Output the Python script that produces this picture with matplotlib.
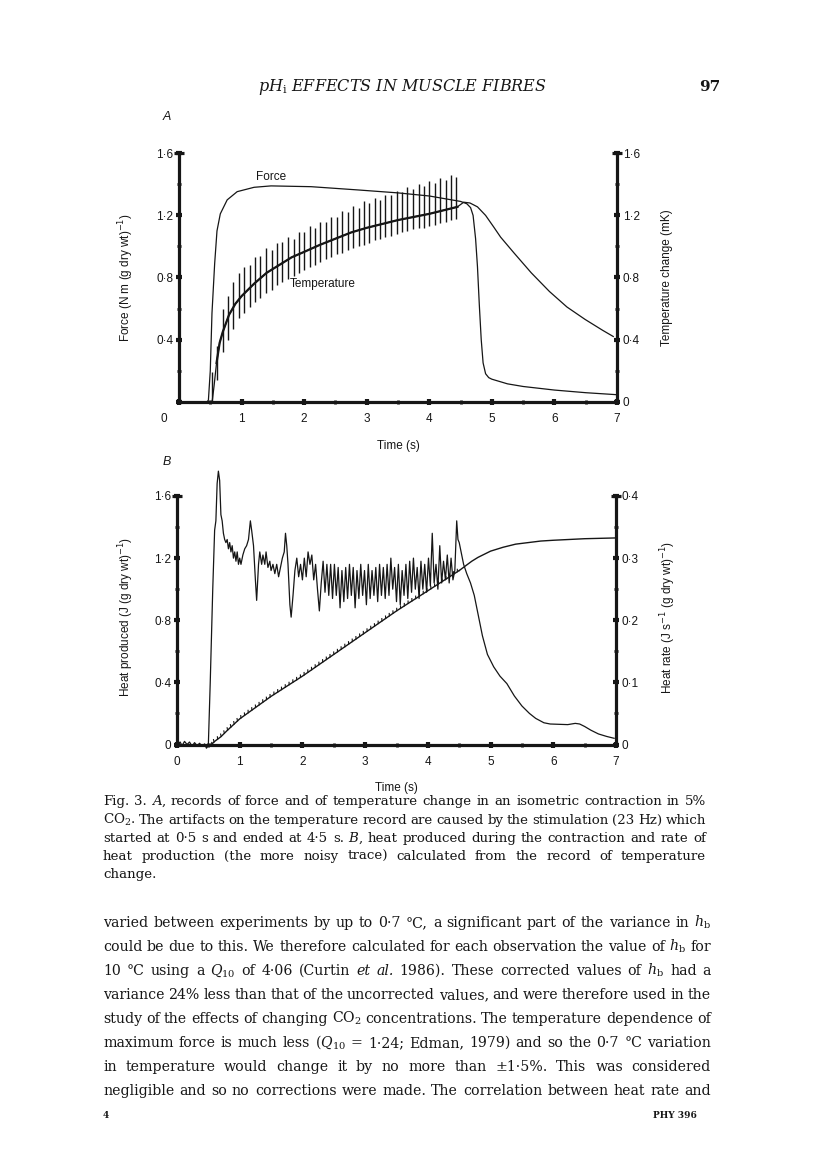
import matplotlib
matplotlib.use('Agg')
import matplotlib.pyplot as plt
import numpy as np
from matplotlib import patheffects
from matplotlib.ticker import MultipleLocator, FuncFormatter

W, H, DPI = 816, 1173, 100
INK = '#161616'
plt.rcParams['font.family'] = ['Liberation Sans', 'DejaVu Sans']

# ---------------- Panel A data ----------------
force_t = [0.00, 0.45, 0.47, 0.50, 0.527, 0.57, 0.607, 0.66, 0.77, 0.93, 1.20, 1.47,
           2.11, 2.86, 3.50, 4.00, 4.50, 4.60, 4.66, 4.70, 4.74, 4.77, 4.80, 4.83,
           4.86, 4.90, 4.95, 5.00, 5.25, 5.50, 6.00, 6.50, 7.00]
force_v = [0.00, 0.00, 0.01, 0.20, 0.57, 0.89, 1.10, 1.21, 1.30, 1.353, 1.381, 1.39,
           1.385, 1.364, 1.345, 1.325, 1.29, 1.275, 1.25, 1.20, 1.05, 0.87, 0.62, 0.40,
           0.25, 0.18, 0.155, 0.145, 0.115, 0.098, 0.075, 0.058, 0.045]

temp_t = [0.00, 0.50, 0.53, 0.56, 0.60, 0.65, 0.70, 0.80, 0.90, 1.00, 1.20, 1.40,
          1.60, 1.80, 2.00, 2.25, 2.50, 2.75, 3.00, 3.25, 3.50, 3.75, 4.00, 4.25,
          4.45, 4.55, 4.65, 4.77, 4.90, 5.03, 5.14, 5.35, 5.63, 5.92, 6.20, 6.49,
          6.77, 6.94]
temp_v = [0.00, 0.00, 0.00, 0.10, 0.25, 0.38, 0.45, 0.56, 0.63, 0.68, 0.76, 0.83,
          0.88, 0.93, 0.965, 1.01, 1.05, 1.09, 1.12, 1.145, 1.17, 1.19, 1.21, 1.235,
          1.255, 1.285, 1.28, 1.255, 1.20, 1.125, 1.06, 0.96, 0.83, 0.71, 0.61, 0.53,
          0.46, 0.42]

# stimulation artefacts on the temperature record (top / bottom of each spike, mK)
spike_t = [0.52, 0.61, 0.70, 0.78, 0.87, 0.96, 1.04, 1.13, 1.22, 1.30, 1.39, 1.48,
           1.56, 1.65, 1.74, 1.83, 1.91, 2.00, 2.09, 2.17, 2.26, 2.35, 2.43, 2.52,
           2.61, 2.70, 2.78, 2.87, 2.96, 3.04, 3.13, 3.22, 3.30, 3.39, 3.48, 3.57,
           3.65, 3.74, 3.83, 3.91, 4.00, 4.09, 4.17, 4.26, 4.35, 4.43]
spike_top = [0.19, 0.36, 0.60, 0.68, 0.77, 0.83, 0.87, 0.88, 0.93, 0.94, 0.99, 0.98,
             1.02, 1.03, 1.06, 1.05, 1.09, 1.09, 1.13, 1.12, 1.16, 1.16, 1.19, 1.19,
             1.23, 1.22, 1.26, 1.25, 1.29, 1.28, 1.31, 1.30, 1.33, 1.33, 1.36, 1.35,
             1.38, 1.37, 1.40, 1.39, 1.42, 1.41, 1.44, 1.43, 1.46, 1.45]
spike_bot = [0.00, 0.14, 0.32, 0.40, 0.47, 0.54, 0.57, 0.61, 0.64, 0.67, 0.70, 0.72,
             0.75, 0.77, 0.79, 0.81, 0.83, 0.85, 0.87, 0.88, 0.90, 0.92, 0.93, 0.95,
             0.96, 0.98, 0.99, 1.00, 1.01, 1.02, 1.04, 1.05, 1.06, 1.07, 1.08, 1.09,
             1.10, 1.11, 1.12, 1.12, 1.13, 1.14, 1.15, 1.16, 1.17, 1.18]

# ---------------- Panel B data ----------------
heat_t = [0.50, 0.55, 0.60, 0.70, 0.80, 1.00, 1.50, 2.00, 2.50, 3.00, 3.50, 4.00,
          4.50, 4.60, 4.70, 4.80, 4.90, 5.00, 5.20, 5.40, 5.60, 5.80, 6.00, 6.50, 7.00]
heat_v = [0.00, 0.00, 0.02, 0.05, 0.09, 0.165, 0.31, 0.44, 0.58, 0.72, 0.86, 0.99,
          1.12, 1.15, 1.18, 1.205, 1.225, 1.245, 1.27, 1.29, 1.30, 1.31, 1.315, 1.325, 1.33]

rate_t = [0.00, 0.05, 0.08, 0.12, 0.16, 0.20, 0.24, 0.28, 0.32, 0.36, 0.40, 0.44, 0.47, 0.50,
          0.53, 0.57, 0.60, 0.62, 0.64, 0.66, 0.68, 0.70, 0.72, 0.74, 0.76, 0.78, 0.80,
          0.82, 0.84, 0.86, 0.88, 0.90, 0.92, 0.94, 0.96, 0.98, 1.00, 1.02, 1.05, 1.08,
          1.11, 1.14, 1.17, 1.19, 1.22, 1.25, 1.27, 1.30, 1.32, 1.35, 1.37, 1.40, 1.42,
          1.45, 1.48, 1.50, 1.53, 1.56, 1.59, 1.62, 1.65, 1.68, 1.71, 1.73, 1.75, 1.77,
          1.80, 1.82, 1.85, 1.88, 1.91, 1.94, 1.97, 2.00, 2.03, 2.06, 2.09, 2.12, 2.15,
          2.18, 2.21, 2.24, 2.27, 2.30, 2.33, 2.36, 2.39, 2.42, 2.45, 2.48, 2.51, 2.54,
          2.57, 2.60, 2.63, 2.66, 2.69, 2.72, 2.75, 2.78, 2.81, 2.84, 2.87, 2.90, 2.93,
          2.96, 2.99, 3.02, 3.05, 3.08, 3.11, 3.14, 3.17, 3.20, 3.23, 3.26, 3.29, 3.32,
          3.35, 3.38, 3.41, 3.44, 3.47, 3.50, 3.53, 3.56, 3.59, 3.62, 3.65, 3.68, 3.71,
          3.74, 3.77, 3.80, 3.83, 3.86, 3.89, 3.92, 3.95, 3.98, 4.01, 4.04, 4.07, 4.10,
          4.13, 4.16, 4.19, 4.22, 4.25, 4.28, 4.31, 4.34, 4.37, 4.40, 4.43, 4.46, 4.48,
          4.50, 4.53, 4.57, 4.62, 4.68, 4.74, 4.80, 4.87, 4.95, 5.05, 5.15, 5.26, 5.38,
          5.50, 5.62, 5.72, 5.85, 5.95, 6.10, 6.23, 6.35, 6.42, 6.50, 6.60, 6.72, 6.85, 6.97]
rate_v = [0.000, 0.004, -0.002, 0.005, 0.000, 0.004, -0.003, 0.003, -0.002, 0.002, -0.003, 0.001, -0.006, 0.000,
          0.100, 0.250, 0.345, 0.360, 0.420, 0.440, 0.425, 0.370, 0.360, 0.340, 0.330, 0.325, 0.330,
          0.315, 0.325, 0.310, 0.320, 0.300, 0.310, 0.295, 0.310, 0.290, 0.300, 0.290, 0.305, 0.315,
          0.320, 0.330, 0.360, 0.345, 0.320, 0.265, 0.232, 0.290, 0.310, 0.290, 0.305, 0.290, 0.310,
          0.285, 0.295, 0.280, 0.290, 0.275, 0.290, 0.270, 0.285, 0.300, 0.310, 0.340, 0.320, 0.290,
          0.225, 0.205, 0.240, 0.280, 0.300, 0.270, 0.290, 0.265, 0.300, 0.270, 0.310, 0.290, 0.305,
          0.265, 0.290, 0.250, 0.215, 0.260, 0.295, 0.245, 0.290, 0.240, 0.290, 0.235, 0.290, 0.240,
          0.285, 0.220, 0.280, 0.230, 0.285, 0.235, 0.290, 0.240, 0.285, 0.220, 0.280, 0.235, 0.290,
          0.240, 0.280, 0.225, 0.290, 0.235, 0.280, 0.240, 0.285, 0.230, 0.290, 0.240, 0.285, 0.235,
          0.290, 0.240, 0.300, 0.250, 0.285, 0.230, 0.290, 0.225, 0.280, 0.240, 0.290, 0.235, 0.295,
          0.245, 0.300, 0.250, 0.285, 0.235, 0.295, 0.250, 0.290, 0.245, 0.300, 0.255, 0.340, 0.260,
          0.290, 0.250, 0.320, 0.260, 0.295, 0.265, 0.305, 0.260, 0.300, 0.265, 0.280, 0.360, 0.330,
          0.325, 0.310, 0.290, 0.275, 0.260, 0.240, 0.210, 0.175, 0.145, 0.125, 0.110, 0.098, 0.078,
          0.062, 0.050, 0.042, 0.035, 0.033, 0.0325, 0.032, 0.034, 0.033, 0.029, 0.023, 0.017, 0.013, 0.010]

x_ticks = [0, 1, 2, 3, 4, 5, 6, 7]

# ---------------- page text ----------------
header_title = r"$pH_\mathrm{i}$ EFFECTS IN MUSCLE FIBRES"
header_page = "97"
caption_lines = [
    "Fig. 3. *A*, records of force and of temperature change in an isometric contraction in 5%",
    r"CO$_2$. The artifacts on the temperature record are caused by the stimulation (23 Hz) which",
    "started at 0·5 s and ended at 4·5 s. *B*, heat produced during the contraction and rate of",
    "heat production (the more noisy trace) calculated from the record of temperature",
    "change.",
]
body_lines = [
    r"varied between experiments by up to 0·7 °C, a significant part of the variance in $h_\mathrm{b}$",
    r"could be due to this. We therefore calculated for each observation the value of $h_\mathrm{b}$ for",
    r"10 °C using a $Q_{10}$ of 4·06 (Curtin *et* *al.* 1986). These corrected values of $h_\mathrm{b}$ had a",
    "variance 24% less than that of the uncorrected values, and were therefore used in the",
    r"study of the effects of changing CO$_2$ concentrations. The temperature dependence of",
    r"maximum force is much less ($Q_{10}$ = 1·24; Edman, 1979) and so the 0·7 °C variation",
    "in temperature would change it by no more than ±1·5%. This was considered",
    "negligible and so no corrections were made. The correlation between heat rate and",
]

fig = plt.figure(figsize=(W / DPI, H / DPI), dpi=DPI)
fig.patch.set_facecolor('white')


def fx(x):
    return x / W


def fy(y):
    return 1 - y / H


def dotfmt(hide_zero=False):
    def f(v, p):
        if abs(v) < 1e-9:
            return '' if hide_zero else '0'
        return f"{v:.1f}".replace('.', '·')
    return FuncFormatter(f)


def style(ax, side):
    for s in ax.spines.values():
        s.set_linewidth(2.3)
        s.set_color(INK)
    ax.spines['top'].set_visible(False)
    if side == 'left':
        ax.spines['right'].set_visible(False)
    else:
        ax.spines['left'].set_visible(False)
        ax.spines['bottom'].set_visible(False)
    ax.tick_params(which='major', direction='inout', length=4.2, width=3.0,
                   color=INK, labelsize=8.5, labelcolor=INK, pad=2)
    ax.tick_params(which='minor', direction='inout', length=2.8, width=2.0, color=INK)
    ax.tick_params(axis='x', which='major', pad=6)
    ax.set_facecolor('none')
    xcap = 0 if side == 'left' else 1
    ax.plot([xcap], [1], marker='_', ms=7, mew=2.3, color=INK,
            transform=ax.transAxes, clip_on=False)


# ---------------- Panel A ----------------
axA = fig.add_axes([fx(179), fy(401.7), fx(438), 248.4 / H])
axA.set_xlim(0, 7)
axA.set_ylim(0, 1.6)
axA.plot(force_t, force_v, color=INK, lw=0.9)
axA.xaxis.set_major_locator(MultipleLocator(1))
axA.xaxis.set_minor_locator(MultipleLocator(0.5))
axA.yaxis.set_major_locator(MultipleLocator(0.4))
axA.yaxis.set_minor_locator(MultipleLocator(0.2))
axA.yaxis.set_major_formatter(dotfmt(hide_zero=True))
axA.xaxis.set_major_formatter(FuncFormatter(lambda v, p: '' if v == 0 else f"{v:.0f}"))
style(axA, 'left')
axA.annotate('0', xy=(0, 0), xycoords='axes fraction', xytext=(-11, -12.5),
             textcoords='offset points', ha='center', va='center', fontsize=8.5, color=INK)
axA.set_ylabel(r"Force (N m (g dry wt)$^{-1}$)", fontsize=8.5, color=INK, math_fontfamily='dejavusans')
axA.yaxis.set_label_coords((136 - 179) / 438, 0.5)
axA.set_xlabel("Time (s)", fontsize=8.5, color=INK)
axA.xaxis.set_label_coords(0.5, (401.7 - 440) / 248.4)
axA.text(1.47, 1.446, 'Force', ha='center', va='center', fontsize=8.5, color=INK)
axA.text(2.30, 0.76, 'Temperature', ha='center', va='center', fontsize=8.5, color=INK)

axAr = axA.twinx()
axAr.set_ylim(0, 1.6)
tt = np.array(temp_t)
tv = np.array(temp_v)
axAr.plot(tt, tv, color=INK, lw=0.9)
m = (tt >= 0.6) & (tt <= 4.5)
axAr.plot(tt[m], tv[m], color=INK, lw=1.6)
axAr.vlines(spike_t, spike_bot, spike_top, color=INK, lw=1.0)
axAr.yaxis.set_major_locator(MultipleLocator(0.4))
axAr.yaxis.set_minor_locator(MultipleLocator(0.2))
axAr.yaxis.set_major_formatter(dotfmt())
style(axAr, 'right')
axAr.set_ylabel("Temperature change (mK)", fontsize=8.5, color=INK)
axAr.yaxis.set_label_coords((661 - 179) / 438, 0.5)
fig.text(fx(167), fy(117), 'A', fontsize=9, style='italic', ha='center', va='center', color=INK)

# ---------------- Panel B ----------------
axB = fig.add_axes([fx(177), fy(744.5), fx(439), 248.5 / H])
axB.set_xlim(0, 7)
axB.set_ylim(0, 1.6)
ht = np.array(heat_t)
hv = np.array(heat_v)
mh = ht <= 4.5
axB.plot(ht[mh], hv[mh], color=INK, lw=1.0,
         path_effects=[patheffects.withTickedStroke(spacing=3.2, angle=58, length=0.55, linewidth=0.8)])
axB.plot(ht[ht >= 4.5], hv[ht >= 4.5], color=INK, lw=1.0)
axB.xaxis.set_major_locator(MultipleLocator(1))
axB.xaxis.set_minor_locator(MultipleLocator(0.5))
axB.set_xticks(x_ticks)
axB.yaxis.set_major_locator(MultipleLocator(0.4))
axB.yaxis.set_minor_locator(MultipleLocator(0.2))
axB.yaxis.set_major_formatter(dotfmt())
style(axB, 'left')
axB.set_ylabel(r"Heat produced (J (g dry wt)$^{-1}$)", fontsize=8.5, color=INK, math_fontfamily='dejavusans')
axB.yaxis.set_label_coords((136 - 177) / 439, 0.515)
axB.set_xlabel("Time (s)", fontsize=8.5, color=INK)
axB.xaxis.set_label_coords(0.5, (744.5 - 782) / 248.5)

axBr = axB.twinx()
axBr.set_ylim(0, 0.4)
axBr.plot(rate_t, rate_v, color=INK, lw=0.9, clip_on=False)
axBr.yaxis.set_major_locator(MultipleLocator(0.1))
axBr.yaxis.set_minor_locator(MultipleLocator(0.05))
axBr.yaxis.set_major_formatter(dotfmt())
style(axBr, 'right')
axBr.set_ylabel(r"Heat rate (J s$^{-1}$ (g dry wt)$^{-1}$)", fontsize=8.5, color=INK, math_fontfamily='dejavusans')
axBr.yaxis.set_label_coords((658 - 177) / 439, 0.51)
fig.text(fx(167), fy(462), 'B', fontsize=9, style='italic', ha='center', va='center', color=INK)

# ---------------- page text (justified, one text per word) ----------------
renderer = fig.canvas.get_renderer()


def parse_word(w):
    parts = w.split('*')
    return [(p, 'italic' if i % 2 else 'normal') for i, p in enumerate(parts) if p]


def draw_line(line, x0, x1, ybase, size, justify=True):
    words = [parse_word(w) for w in line.split(' ')]
    objs = []
    for segs in words:
        row = []
        for s, st in segs:
            t = fig.text(0, fy(ybase), s, fontsize=size, family='DejaVu Serif', style=st,
                         va='baseline', ha='left', color=INK, math_fontfamily='dejavuserif')
            row.append((t, t.get_window_extent(renderer).width))
        objs.append(row)
    total = sum(w for row in objs for _, w in row)
    n = len(objs)
    gap = (x1 - x0 - total) / (n - 1) if (justify and n > 1) else size * DPI / 72 * 0.3
    x = x0
    for row in objs:
        for t, w in row:
            t.set_x(fx(x))
            x += w
        x += gap


fig.text(fx(402), fy(87), header_title, fontsize=11.5, family='DejaVu Serif', style='italic',
         ha='center', va='center', color=INK, math_fontfamily='dejavuserif')
fig.text(fx(720), fy(87), header_page, fontsize=11, family='DejaVu Serif', weight='bold',
         ha='right', va='center', color=INK)

cap_y = [805, 824, 842, 860, 878]
for i, (line, yb) in enumerate(zip(caption_lines, cap_y)):
    draw_line(line, 103, 706, yb, 9.6, justify=(i < len(caption_lines) - 1))

body_y = [927 + 24 * i for i in range(len(body_lines))]
for line, yb in zip(body_lines, body_y):
    draw_line(line, 103, 711, yb, 10.2, justify=True)

fig.text(fx(103), fy(1116), '4', fontsize=6.5, family='DejaVu Serif', weight='bold',
         ha='left', va='center', color=INK)
fig.text(fx(697), fy(1116), 'PHY 396', fontsize=6.5, family='DejaVu Serif', weight='bold',
         ha='right', va='center', color=INK)

fig.savefig('out.png', dpi=DPI, facecolor='white')
